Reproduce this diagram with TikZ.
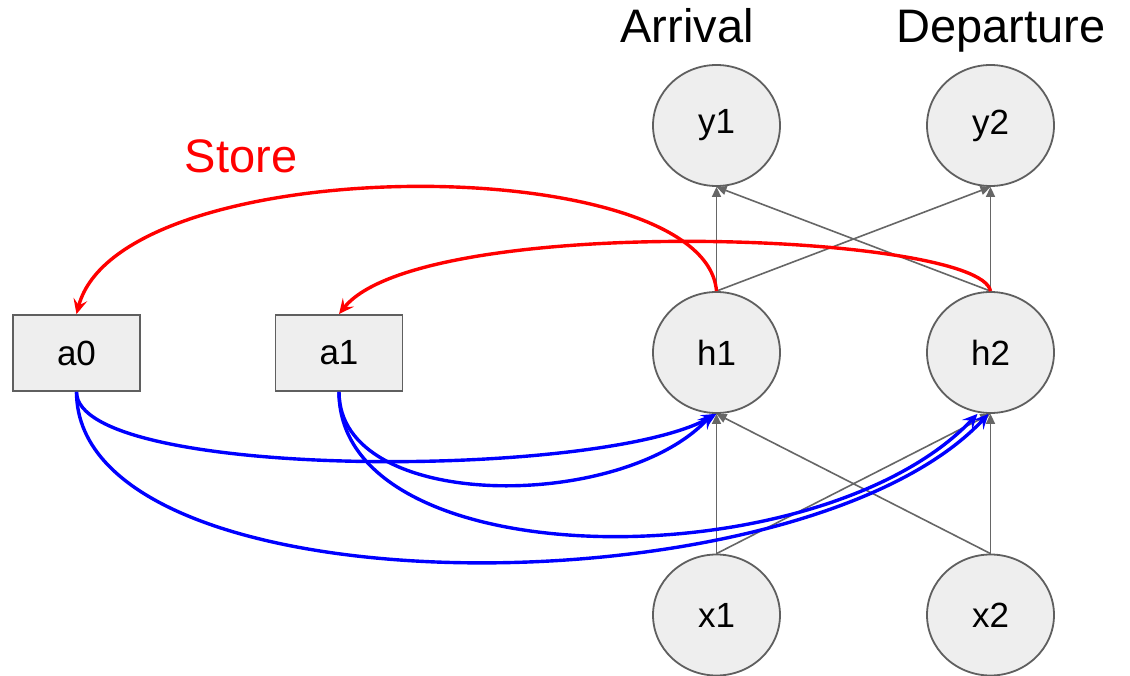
\documentclass[tikz,border=0pt]{standalone}
\usepackage{fontspec}
\setmainfont{Liberation Sans}
\usetikzlibrary{arrows.meta,shapes.geometric}
\definecolor{nodefill}{HTML}{EEEEEE}
\definecolor{nodeline}{HTML}{5F5F5F}
\definecolor{edgegray}{HTML}{666666}
\begin{document}
\begin{tikzpicture}[x=1pt,y=-1pt,
  unit/.style={ellipse, draw=nodeline, fill=nodefill, line width=1.8pt,
    minimum width=127pt, minimum height=121pt, inner sep=0pt,
    font=\fontsize{35}{42}\selectfont},
  mem/.style={rectangle, draw=nodeline, fill=nodefill, line width=1.8pt,
    minimum width=127pt, minimum height=76pt, inner sep=0pt,
    font=\fontsize{35}{42}\selectfont},
  gedge/.style={draw=edgegray, line width=1.6pt, -{Triangle[length=10pt,width=9pt]}},
  redge/.style={draw=red, line width=3.4pt, -{Stealth[length=15pt,width=14pt,inset=6pt]}},
  bedge/.style={draw=blue, line width=3.4pt, -{Stealth[length=15pt,width=14pt,inset=6pt]}},
  title/.style={anchor=base, font=\fontsize{47}{56}\selectfont, inner sep=0pt}
]
\useasboundingbox (0,0) rectangle (1130,676);
\fill[white] (0,0) rectangle (1130,676);

% titles
\node[title] (arr) at (687,43) {Arrival};
\node[title] (dep) at (1001,43) {Departure};
\node[title, text=red] (st) at (241,173) {Store};

% network units
\node[unit] (y1) at (716.5,125.5) {y1};
\node[unit] (y2) at (990.5,125.5) {y2};
\node[unit] (h1) at (716.5,352.5) {h1};
\node[unit] (h2) at (990.5,352.5) {h2};
\node[unit] (x1) at (716.5,615) {x1};
\node[unit] (x2) at (990.5,615) {x2};

% memory cells
\node[mem] (a0) at (76.5,353) {a0};
\node[mem] (a1) at (339,353) {a1};

% feed-forward connections
\draw[gedge] (h1.north) -- (y1.south);
\draw[gedge] (h1.north) -- (y2.south);
\draw[gedge] (h2.north) -- (y1.south);
\draw[gedge] (h2.north) -- (y2.south);
\draw[gedge] (x1.north) -- (h1.south);
\draw[gedge] (x1.north) -- (h2.south);
\draw[gedge] (x2.north) -- (h1.south);
\draw[gedge] (x2.north) -- (h2.south);

% store hidden state into memory
\draw[redge] (h1.north) .. controls (705,149) and (120,149) .. (a0.north);
\draw[redge] (h2.north) .. controls (980,232) and (420,212) .. (a1.north);

% memory fed back to hidden units
\draw[bedge] (a0.south) .. controls (77,480) and (600,480) .. (h1.south);
\draw[bedge] (a0.south) .. controls (77,615) and (800,615) .. ([xshift=-2pt]h2.south);
\draw[bedge] (a1.south) .. controls (339,512) and (620,512) .. ([xshift=-4pt]h1.south);
\draw[bedge] (a1.south) .. controls (339,580) and (820,580) .. ([xshift=-13pt]h2.south);
\end{tikzpicture}
\end{document}
